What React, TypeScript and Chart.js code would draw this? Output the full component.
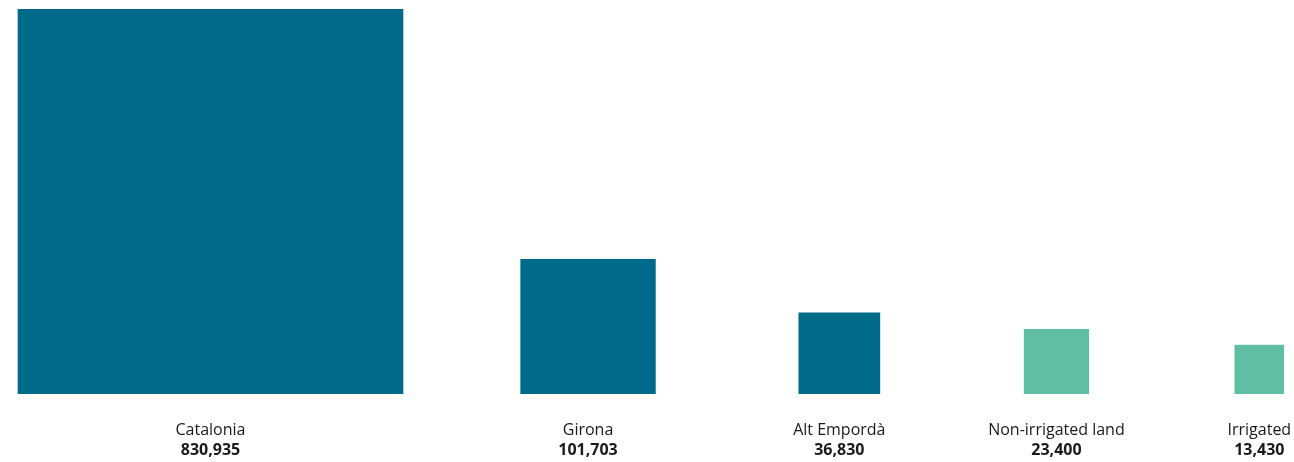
import React, { useEffect, useRef } from "react";
import { Chart, registerables } from "chart.js";

Chart.register(...registerables);

// ---- data ----
const CATEGORIES = ["Catalonia", "Girona", "Alt Empordà", "Non-irrigated land", "Irrigated"];
const VALUES = [830935, 101703, 36830, 23400, 13430];
const VALUE_LABELS = ["830,935", "101,703", "36,830", "23,400", "13,430"];
const COLORS = ["#006a8a", "#006a8a", "#006a8a", "#5fbea3", "#5fbea3"];

// ---- layout (px) ----
const W = 1294;
const H = 462;
const PLOT_H = 385; // height of the plot area = side of the largest square
const FIRST_LEFT = 18;
const GAPS = [117.7, 143.4, 144.3, 146.1]; // horizontal space between squares

const maxRoot = Math.sqrt(Math.max(...VALUES));
// squares: area proportional to value
const SIDES = VALUES.map((v) => (Math.sqrt(v) / maxRoot) * PLOT_H);
const CENTERS: number[] = [];
{
  let left = FIRST_LEFT;
  SIDES.forEach((s, i) => {
    CENTERS.push(left + s / 2);
    left += s + (GAPS[i] ?? 0);
  });
}

const FONT = "'Open Sans', 'DejaVu Sans', sans-serif";

export default function App() {
  const ref = useRef<HTMLCanvasElement | null>(null);

  useEffect(() => {
    if (!ref.current) return;
    const setTicks = (scale: any) => {
      scale.ticks = CENTERS.map((c) => ({ value: c }));
    };
    const chart = new Chart(ref.current, {
      type: "bar",
      data: {
        datasets: CATEGORIES.map((name, i) => ({
          label: name,
          data: [{ x: CENTERS[i], y: SIDES[i] }],
          backgroundColor: COLORS[i],
          borderWidth: 0,
          barThickness: SIDES[i],
          grouped: false,
        })) as any,
      },
      options: {
        animation: false,
        responsive: true,
        maintainAspectRatio: false,
        layout: { padding: { top: 9, bottom: 4, left: 0, right: 0 } },
        plugins: { legend: { display: false }, tooltip: { enabled: false } },
        scales: {
          x: {
            type: "linear",
            position: "bottom",
            min: 0,
            max: W,
            offset: false,
            weight: 0,
            grid: { display: false, drawTicks: false },
            border: { display: false },
            afterBuildTicks: setTicks,
            ticks: {
              autoSkip: false,
              maxRotation: 0,
              minRotation: 0,
              padding: 0,
              color: "#1a1a1a",
              font: { family: FONT, size: 16, weight: 500, lineHeight: 1.5 },
              callback: (_v: any, i: number) => ["", CATEGORIES[i]],
            },
          },
          x2: {
            type: "linear",
            position: "bottom",
            min: 0,
            max: W,
            offset: false,
            weight: 1,
            grid: { display: false, drawTicks: false },
            border: { display: false },
            afterBuildTicks: setTicks,
            ticks: {
              autoSkip: false,
              maxRotation: 0,
              minRotation: 0,
              padding: 0,
              color: "#1a1a1a",
              font: { family: FONT, size: 16, weight: "bold", lineHeight: 1 },
              callback: (_v: any, i: number) => VALUE_LABELS[i],
            },
          },
          y: {
            display: false,
            min: 0,
            max: PLOT_H,
          },
        },
      } as any,
    });
    return () => chart.destroy();
  }, []);

  return (
    <div style={{ position: "absolute", left: 0, top: 0, width: W, height: H }}>
      <canvas ref={ref} />
    </div>
  );
}
